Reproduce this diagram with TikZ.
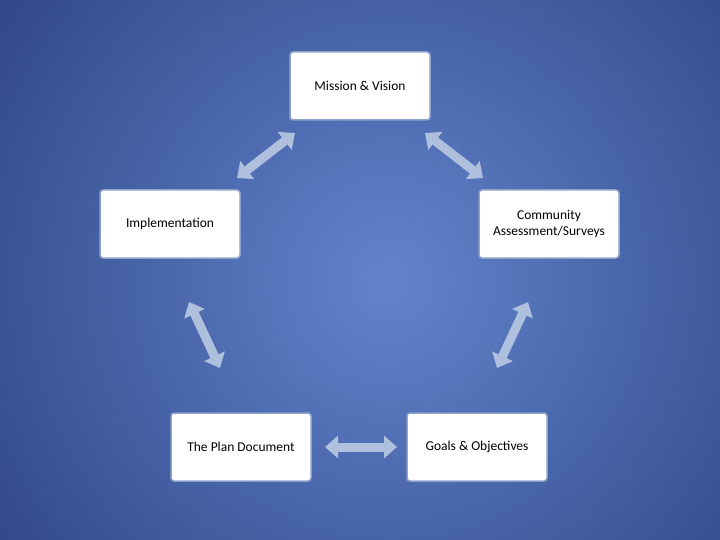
\documentclass[tikz,border=0pt]{standalone}
\usepackage{fontspec}
\setmainfont{Carlito}
\usetikzlibrary{arrows.meta}
\definecolor{bgin}{HTML}{6283CB}
\definecolor{bgout}{HTML}{1E3270}
\definecolor{arr}{HTML}{AFC0DE}
\definecolor{bord}{HTML}{8DA2CB}
\begin{document}
\begin{tikzpicture}[x=1pt,y=-1pt,
  box/.style={draw=bord,line width=1.5pt,fill=white,rounded corners=3pt,minimum width=140pt,minimum height=68pt,align=center,font=\fontsize{13.5}{15.5}\selectfont,inner sep=2pt},
  conn/.style={line width=9pt,draw=arr,{Triangle[width=22pt,length=13pt]}-{Triangle[width=22pt,length=13pt]}}]
\begin{scope}
\clip (0,0) rectangle (720,540);
\shade[inner color=bgin,outer color=bgout] (390-660,280-660) rectangle (390+660,280+660);
\end{scope}
\useasboundingbox (0,0) rectangle (720,540);
\node[box] (mv) at (360,86) {Mission \& Vision};
\node[box] (im) at (170,224) {Implementation};
\node[box] (co) at (549,224) {Community\\Assessment/Surveys};
\node[box] (pd) at (241,447) {The Plan Document};
\node[box] (go) at (477,447) {Goals \& Objectives};
\coordinate (a1) at (237,178); \coordinate (b1) at (295,133);
\coordinate (a2) at (425,133); \coordinate (b2) at (483,178);
\coordinate (a3) at (189,302); \coordinate (b3) at (220,368);
\coordinate (a4) at (528,302); \coordinate (b4) at (497,368);
\coordinate (a5) at (325,447); \coordinate (b5) at (397,447);
\foreach \i in {1,...,5} \draw[conn] (a\i) -- (b\i);
\end{tikzpicture}
\end{document}
